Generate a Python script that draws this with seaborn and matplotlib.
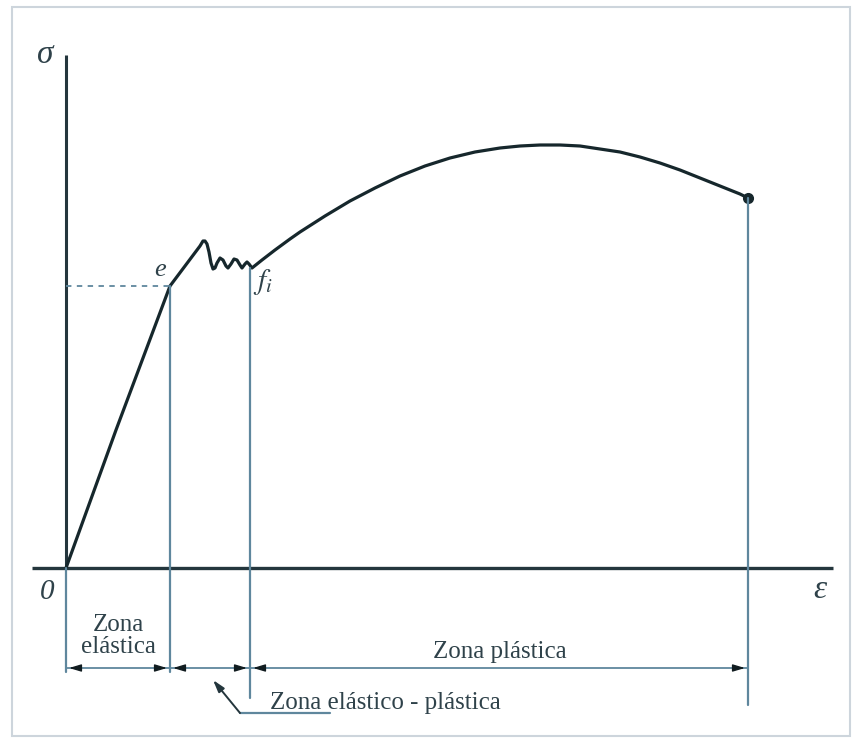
import numpy as np
import pandas as pd
import seaborn as sns
import matplotlib.pyplot as plt
from matplotlib.patches import Rectangle

# Stress-strain curve (arbitrary units)
strain = [0, 0.50, 1.04, 1.34, 1.37, 1.39, 1.41, 1.43, 1.45, 1.47, 1.49, 1.51,
          1.54, 1.57, 1.60, 1.62, 1.65, 1.68, 1.71, 1.74, 1.76, 1.79, 1.81,
          1.83, 1.86, 1.96, 2.09, 2.24, 2.34, 2.59, 2.84, 3.09, 3.34, 3.59,
          3.84, 4.09, 4.34, 4.54, 4.74, 4.94, 5.14, 5.34, 5.54, 5.74, 5.94,
          6.14, 6.34, 6.49, 6.64, 6.74, 6.82]
stress = [0, 1.38, 2.82, 3.22, 3.27, 3.27, 3.24, 3.16, 3.05, 2.99, 3.00, 3.05,
          3.10, 3.08, 3.02, 3.00, 3.04, 3.09, 3.08, 3.03, 3.00, 3.04, 3.06,
          3.04, 3.00, 3.08, 3.18, 3.29, 3.36, 3.52, 3.67, 3.80, 3.92, 4.02,
          4.10, 4.16, 4.20, 4.22, 4.23, 4.23, 4.22, 4.19, 4.16, 4.11, 4.05,
          3.98, 3.90, 3.84, 3.78, 3.74, 3.70]

# characteristic points
e_pt = (1.04, 2.82)
fi_pt = (1.84, 3.00)
rupture_pt = (6.82, 3.70)

zone_labels = ['Zona\nelástica', 'Zona elástico - plástica', 'Zona plástica']

df = pd.DataFrame({'strain': strain, 'stress': stress})

sns.set_theme(style='white')
plt.rcParams['font.family'] = ['Liberation Serif', 'DejaVu Serif']

fig = plt.figure(figsize=(8.52, 7.38), dpi=100)
ax = fig.add_axes([0, 0, 1, 1])
ax.set_xlim(-0.66, 7.86)
ax.set_ylim(-1.70, 5.68)
ax.axis('off')

curve_c = '#16272c'
axis_c = '#24363d'
thin_c = '#5f879d'
text_c = '#2f424a'

# outer frame
ax.add_patch(Rectangle((-0.54, -1.68), 8.38, 7.29, fill=False,
                       edgecolor='#cdd5dc', lw=1.5))

# axes
ax.plot([0, 0], [0, 5.13], color=axis_c, lw=2.2, solid_capstyle='butt')
ax.plot([-0.34, 7.67], [0, 0], color=axis_c, lw=2.4, solid_capstyle='butt')

# curve
sns.lineplot(data=df, x='strain', y='stress', sort=False, ax=ax,
             color=curve_c, lw=2.3)
ax.lines[-1].set_solid_joinstyle('round')
ax.plot(*rupture_pt, 'o', color=curve_c, ms=7)

# dashed level of elastic limit
ax.plot([0, e_pt[0]], [e_pt[1], e_pt[1]], color=thin_c, lw=1.3, ls=(0, (3, 3)))

# extension lines
ax.plot([0, 0], [0, -1.04], color=thin_c, lw=1.6)
ax.plot([e_pt[0], e_pt[0]], [e_pt[1], -1.04], color=thin_c, lw=1.6)
ax.plot([fi_pt[0], fi_pt[0]], [fi_pt[1], -1.30], color=thin_c, lw=1.6)
ax.plot([rupture_pt[0], rupture_pt[0]], [rupture_pt[1], -1.37], color=thin_c, lw=1.6)

# dimension lines with dark arrowheads
dim_y = -1.0
head = dict(arrowstyle='-|>,head_length=0.6,head_width=0.18',
            color='#111c20', lw=1.0, shrinkA=0, shrinkB=0)
for x0, x1 in [(0, e_pt[0]), (e_pt[0], fi_pt[0]), (fi_pt[0], rupture_pt[0])]:
    ax.plot([x0, x1], [dim_y, dim_y], color=thin_c, lw=1.3)
    ax.annotate('', xy=(x0 + 0.03, dim_y), xytext=(x0 + 0.12, dim_y), arrowprops=head)
    ax.annotate('', xy=(x1 - 0.03, dim_y), xytext=(x1 - 0.12, dim_y), arrowprops=head)

# leader for elastic-plastic zone
ax.annotate('', xy=(1.47, -1.12), xytext=(1.74, -1.45),
            arrowprops=dict(arrowstyle='-|>,head_length=0.6,head_width=0.18',
                            color=axis_c, lw=1.4, shrinkA=0, shrinkB=0))
ax.plot([1.74, 2.64], [-1.45, -1.45], color=thin_c, lw=1.6)

# labels
ax.text(-0.21, 5.13, 'σ', fontsize=24, style='italic', color=text_c,
        ha='center', va='center')
ax.text(7.54, -0.22, 'ε', fontsize=24, style='italic', color=text_c,
        ha='center', va='center')
ax.text(-0.19, -0.24, '0', fontsize=21, style='italic', color=text_c,
        ha='center', va='center')
ax.text(0.94, 2.98, 'e', fontsize=19, style='italic', color=text_c,
        ha='center', va='center')
ax.text(1.97, 2.86, r'$f_i$', fontsize=21, color=text_c,
        ha='center', va='center', math_fontfamily='stix')

ax.text(0.52, -0.68, zone_labels[0], fontsize=18, color=text_c,
        ha='center', va='center', linespacing=1.05)
ax.text(2.04, -1.35, zone_labels[1], fontsize=18, color=text_c,
        ha='left', va='center')
ax.text(4.34, -0.84, zone_labels[2], fontsize=18, color=text_c,
        ha='center', va='center')

fig.savefig('out.png', dpi=100)
